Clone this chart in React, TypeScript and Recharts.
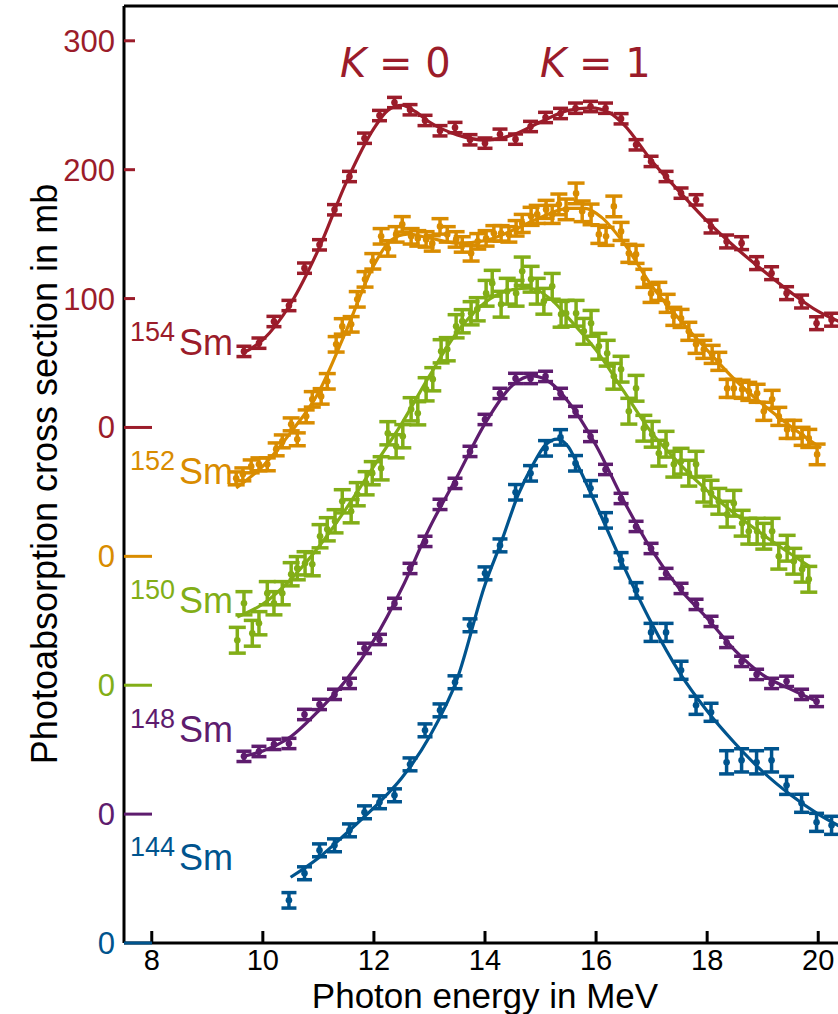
import React from "react";
import { ComposedChart, Scatter, Line, XAxis, YAxis, ErrorBar } from "recharts";

// measured data, cross sections in mb; each isotope is shifted by 100 mb in the plot
const E_GRID = [
  9.66, 9.93, 10.2, 10.47, 10.75, 11.02, 11.29, 11.56, 11.83, 12.1, 12.37, 12.65, 12.92, 13.19,
  13.46, 13.73, 14.0, 14.27, 14.55, 14.82, 15.09, 15.36, 15.63, 15.9, 16.17, 16.45, 16.72, 16.99,
  17.26, 17.53, 17.8, 18.07, 18.35, 18.62, 18.89, 19.16, 19.43, 19.7, 19.97, 20.24,
];

const SM154 = [
  59, 65.4, 82.2, 94.6, 123.6, 141.7, 168.9, 194.7, 224.4, 242, 252.1, 246.5, 238.2, 230.2,
  232.7, 223.2, 220.6, 227.5, 223.7, 233.5, 240.5, 243.6, 247.7, 249, 247.7, 239.5, 219.3, 206.4,
  194.7, 181.8, 176.6, 155.9, 144.3, 143, 127.5, 119.7, 104.2, 97.7, 80.9, 83.6,
];
const SM154_ERR = [
  4, 4, 4, 4, 4, 4, 4, 4, 4, 4, 4, 4, 4, 4, 4, 4, 4, 4, 4, 4, 4, 4, 4, 4, 4, 4, 4, 4, 4, 4, 4, 5,
  5, 5, 5, 5, 5, 5, 5, 5,
];

const E_152 = [
  9.52, 9.64, 9.79, 9.93, 10.08, 10.24, 10.35, 10.51, 10.62, 10.78, 10.89, 11.05, 11.16, 11.32,
  11.43, 11.59, 11.7, 11.84, 11.98, 12.13, 12.25, 12.4, 12.51, 12.67, 12.79, 12.94, 13.05, 13.19,
  13.32, 13.48, 13.59, 13.75, 13.87, 14.02, 14.16, 14.29, 14.43, 14.56, 14.67, 14.83, 14.94, 15.1,
  15.21, 15.33, 15.46, 15.64, 15.75, 15.91, 16.05, 16.18, 16.32, 16.45, 16.59, 16.72, 16.86,
  16.99, 17.13, 17.28, 17.4, 17.53, 17.67, 17.8, 17.94, 18.09, 18.21, 18.36, 18.48, 18.63, 18.75,
  18.9, 19.02, 19.17, 19.29, 19.44, 19.56, 19.71, 19.83, 19.98,
];
const SM152 = [
  60.5, 63.6, 69.8, 71.4, 71.4, 83, 89.2, 102.4, 90.8, 108.6, 121.8, 124.1, 135.8, 164.5, 178.4,
  180, 199.4, 214.9, 228.9, 248.3, 238.9, 249.8, 257.6, 248.3, 246.7, 245.9, 242.8, 256, 249.8,
  245.9, 242, 235.1, 244.4, 246.7, 250.6, 250.6, 249.8, 254.5, 258.3, 263.8, 265.3, 269.2, 265.3,
  273.1, 269.2, 281.6, 267.7, 265.3, 249.8, 248.3, 271.5, 252.1, 235.1, 234.3, 215.7, 204, 205.6,
  196.3, 186.2, 184.6, 174.6, 164.5, 160.6, 156.7, 151.3, 130.3, 130.3, 129.6, 128, 126.5, 112.5,
  121.8, 108.6, 98.5, 98.5, 93.1, 91.5, 79.1,
];
const SM152_ERR = [
  5, 5, 5, 5, 5, 5, 5, 5, 5, 5, 6, 6, 6, 6, 6, 6, 6, 6, 6, 6, 6, 6, 6, 6, 6, 6, 6, 6, 6, 6, 6, 6,
  6, 6, 6, 6, 6, 6, 7, 7, 7, 7, 7, 8, 8, 8, 8, 8, 7, 7, 8, 7, 7, 7, 7, 7, 7, 7, 7, 7, 7, 7, 7, 7,
  7, 7, 7, 7, 7, 7, 7, 7, 7, 7, 7, 7, 7, 8,
];

const E_150 = [
  9.54, 9.66, 9.81, 9.93, 10.08, 10.2, 10.35, 10.51, 10.62, 10.76, 10.89, 11.03, 11.16, 11.3,
  11.43, 11.59, 11.7, 11.86, 11.97, 12.13, 12.25, 12.4, 12.52, 12.67, 12.79, 12.94, 13.06, 13.21,
  13.32, 13.48, 13.59, 13.75, 13.86, 14.02, 14.13, 14.29, 14.4, 14.56, 14.67, 14.83, 14.94, 15.06,
  15.21, 15.37, 15.46, 15.64, 15.78, 15.91, 16.05, 16.2, 16.32, 16.45, 16.59, 16.72, 16.86, 17.01,
  17.13, 17.26, 17.4, 17.53, 17.67, 17.8, 17.94, 18.07, 18.21, 18.36, 18.48, 18.63, 18.75, 18.9,
  19.02, 19.17, 19.29, 19.44, 19.56, 19.71, 19.83,
];
const SM150 = [
  34.9, 63.6, 40.3, 48.1, 71.4, 63.6, 71.4, 86.1, 90.8, 94.6, 93.9, 115.6, 121, 127.2, 142.7, 135,
  148.2, 156.7, 164.5, 168.3, 195.5, 185.4, 193.2, 214.1, 211, 229.6, 237.4, 259.1, 260.7, 278.5,
  282.4, 288.6, 291.7, 304.1, 311.9, 295.6, 305.7, 304.1, 321.2, 315, 305.7, 297.9, 309.5, 287.8,
  288.6, 288.6, 274.6, 280.8, 263, 257.6, 239.7, 245.2, 212.6, 230.4, 199.4, 194.7, 180, 187,
  171.5, 173.8, 164.5, 171.5, 152.1, 149, 142.7, 132.7, 141.2, 125.7, 119.5, 119.5, 115.6, 119.5,
  100.1, 106.3, 96.2, 90, 82.2,
];
const SM150_ERR = [
  10, 9, 10, 9, 9, 9, 9, 9, 9, 9, 9, 9, 9, 9, 9, 9, 9, 9, 9, 9, 9, 9, 9, 9, 9, 9, 9, 9, 9, 9, 9,
  9, 9, 10, 10, 10, 10, 10, 11, 10, 10, 10, 10, 10, 10, 10, 10, 10, 10, 10, 10, 10, 10, 10, 10, 10,
  10, 10, 10, 10, 10, 10, 10, 10, 10, 10, 10, 10, 10, 10, 10, 10, 10, 10, 10, 10, 10,
];

const SM148 = [
  44.8, 48.6, 54.1, 54.8, 77.3, 85.1, 92.9, 101.4, 128.6, 135.5, 163.5, 190.6, 211.6, 240.3,
  256.6, 281.4, 306.2, 326.4, 338, 338, 339.6, 326.4, 312.4, 293, 267.4, 244.9, 223.2, 206.1,
  186.7, 175.1, 162.7, 149.5, 133.2, 118.5, 108.4, 101.4, 103, 92.9, 87.4,
];
const SM148_ERR = [
  4, 4, 4, 4, 4, 4, 4, 4, 4, 4, 4, 4, 4, 4, 4, 4, 4, 4, 4, 4, 4, 4, 4, 4, 4, 4, 4, 4, 4, 4, 4, 4,
  4, 4, 4, 4, 4, 4, 4,
];

const E_144 = [
  10.47, 10.75, 11.02, 11.29, 11.56, 11.83, 12.1, 12.37, 12.65, 12.92, 13.19, 13.46, 13.73, 14.0,
  14.27, 14.55, 14.82, 15.09, 15.36, 15.63, 15.9, 16.17, 16.45, 16.72, 16.99, 17.26, 17.53, 17.8,
  18.07, 18.35, 18.62, 18.89, 19.16, 19.43, 19.7, 19.97, 20.24,
];
const SM144 = [
  33.1, 54.1, 71.9, 75.8, 87.4, 101.4, 109.2, 114.6, 138.6, 165, 180.5, 202.3, 246.5, 286.8,
  308.5, 349.7, 364.4, 383.8, 392.3, 372.2, 352.8, 327.9, 296.9, 273.6, 241, 241, 211.6, 184.4,
  179, 140.2, 141.7, 140.2, 141.7, 122.3, 108.4, 93.6, 91.3,
];
const SM144_ERR = [
  6, 5, 5, 5, 5, 5, 5, 5, 5, 5, 5, 5, 5, 5, 5, 6, 6, 6, 6, 6, 6, 6, 6, 6, 7, 7, 7, 7, 7, 9, 9, 9,
  9, 7, 7, 7, 7,
];

// fitted curves
const FIT154_E = [9.66, 10, 10.5, 11, 11.5, 12, 12.25, 12.5, 12.75, 13, 13.5, 14, 14.5, 15, 15.5, 15.9, 16.25, 16.5, 17, 17.5, 18, 18.5, 19, 19.5, 20, 20.5];
const FIT154_V = [58, 68, 96, 138, 190, 232, 246, 250, 245, 237, 227, 223, 227, 237, 246, 248, 244, 235, 207, 183, 160, 140, 122, 105, 90, 80];
const FIT152_E = [9.52, 10, 10.5, 11, 11.5, 12, 12.3, 12.6, 13, 13.5, 14, 14.5, 15, 15.5, 15.8, 16.1, 16.5, 17, 17.5, 18, 18.5, 19, 19.5, 20.05];
const FIT152_V = [53, 70, 96, 127, 175, 226, 245, 250, 247, 243, 245, 253, 263, 270, 270, 263, 243, 210, 184, 160, 137, 118, 101, 84];
const FIT150_E = [9.54, 10, 10.5, 11, 11.5, 12, 12.5, 13, 13.5, 14, 14.5, 14.8, 15.2, 15.5, 16, 16.5, 17, 17.5, 18, 18.5, 19, 19.5, 19.85];
const FIT150_V = [53, 63, 82, 107, 137, 170, 203, 240, 274, 297, 307, 308, 299, 285, 260, 228, 196, 172, 151, 133, 117, 102, 92];
const FIT148_E = [9.66, 10, 10.5, 11, 11.5, 12, 12.5, 13, 13.5, 14, 14.5, 14.85, 15.2, 15.5, 16, 16.5, 17, 17.5, 18, 18.5, 19, 19.5, 20];
const FIT148_V = [45, 49, 60, 80, 104, 135, 175, 222, 262, 303, 333, 340, 334, 320, 286, 243, 205, 175, 152, 127, 108, 97, 87];
const FIT144_E = [10.5, 11, 11.5, 12, 12.5, 13, 13.5, 14, 14.3, 14.6, 14.85, 15.1, 15.3, 15.5, 15.7, 16, 16.5, 17, 17.5, 18, 18.5, 19, 19.5, 20, 20.5];
const FIT144_V = [51, 66, 85, 105, 128, 160, 205, 278, 312, 348, 370, 387, 391, 385, 368, 340, 292, 248, 210, 180, 155, 133, 115, 100, 88];

const X_TICKS = [8, 10, 12, 14, 16, 18, 20];
const Y_TICKS = [0, 100, 200, 300, 400, 500, 600, 700];
const Y_TICK_LABELS = ["0", "0", "0", "0", "0", "100", "200", "300"];

const RED = "#9b1c2a";
const ORANGE = "#d98c00";
const GREEN = "#82ae17";
const PURPLE = "#5e1c6e";
const BLUE = "#00548e";
const Y_TICK_COLORS = [BLUE, PURPLE, GREEN, ORANGE, RED, RED, RED, RED];
const FONT = "'Liberation Sans', Arial, sans-serif";

const points = (e: number[], v: number[], err: number[], offset: number) =>
  e.map((x, i) => ({ x, y: v[i] + offset, err: err[i] }));
const curve = (e: number[], v: number[], offset: number) =>
  e.map((x, i) => ({ x, y: v[i] + offset }));

const SERIES = [
  { name: "154Sm", color: RED, pts: points(E_GRID, SM154, SM154_ERR, 400), fit: curve(FIT154_E, FIT154_V, 400), cap: 7.5 },
  { name: "152Sm", color: ORANGE, pts: points(E_152, SM152, SM152_ERR, 300), fit: curve(FIT152_E, FIT152_V, 300), cap: 8.5 },
  { name: "150Sm", color: GREEN, pts: points(E_150, SM150, SM150_ERR, 200), fit: curve(FIT150_E, FIT150_V, 200), cap: 8.5 },
  { name: "148Sm", color: PURPLE, pts: points(E_GRID.slice(0, 39), SM148, SM148_ERR, 100), fit: curve(FIT148_E, FIT148_V, 100), cap: 7.5 },
  { name: "144Sm", color: BLUE, pts: points(E_144, SM144, SM144_ERR, 0), fit: curve(FIT144_E, FIT144_V, 0), cap: 7.5 },
];

const LeftTick = (props: any) => {
  const { x, y, index } = props;
  const c = Y_TICK_COLORS[index];
  const len = index < 5 ? 28 : 11;
  return (
    <g>
      <line x1={x + 9} x2={x + 9 + len} y1={y} y2={y} stroke={c} strokeWidth={3} />
      <text x={x} y={y + 11} textAnchor="end" fill={c} fontSize={31} fontFamily={FONT}>
        {Y_TICK_LABELS[index]}
      </text>
    </g>
  );
};

const RightTick = (props: any) => {
  const { x, y, index } = props;
  return <line x1={x - 11} x2={x} y1={y} y2={y} stroke={Y_TICK_COLORS[index]} strokeWidth={3} />;
};

const BottomTick = (props: any) => {
  const { x, y, payload } = props;
  return (
    <g>
      <line x1={x} x2={x} y1={y} y2={y - 12} stroke="#000" strokeWidth={3} />
      <text x={x} y={y + 27} textAnchor="middle" fill="#000" fontSize={29} fontFamily={FONT}>
        {payload.value}
      </text>
    </g>
  );
};

const TopTick = (props: any) => {
  const { x, y } = props;
  return <line x1={x} x2={x} y1={y} y2={y + 12} stroke="#000" strokeWidth={3} />;
};

const ISO_LABELS = [
  { mass: "154", color: RED, y: 355 },
  { mass: "152", color: ORANGE, y: 484 },
  { mass: "150", color: GREEN, y: 613 },
  { mass: "148", color: PURPLE, y: 742 },
  { mass: "144", color: BLUE, y: 870 },
];

export default function App() {
  return (
    <div
      style={{
        position: "fixed",
        left: 0,
        top: 0,
        width: 838,
        height: 1014,
        overflow: "hidden",
        background: "#fff",
      }}
    >
      <ComposedChart width={860} height={1014} margin={{ top: 5, right: 0, bottom: 0, left: 0 }}>
        <XAxis
          dataKey="x"
          type="number"
          domain={[7.5, 20.5]}
          ticks={X_TICKS}
          interval={0}
          height={71}
          tickSize={0}
          tickMargin={0}
          tick={<BottomTick />}
          axisLine={{ stroke: "#000", strokeWidth: 3 }}
          tickLine={false}
        />
        <XAxis
          xAxisId="top"
          orientation="top"
          dataKey="x"
          type="number"
          domain={[7.5, 20.5]}
          ticks={X_TICKS}
          interval={0}
          height={1}
          tickSize={0}
          tickMargin={0}
          tick={<TopTick />}
          axisLine={{ stroke: "#000", strokeWidth: 3 }}
          tickLine={false}
        />
        <YAxis
          dataKey="y"
          type="number"
          domain={[0, 727]}
          ticks={Y_TICKS}
          interval={0}
          width={124}
          tickSize={0}
          tickMargin={9}
          tick={<LeftTick />}
          axisLine={{ stroke: "#000", strokeWidth: 3 }}
          tickLine={false}
        />
        <YAxis
          yAxisId="right"
          orientation="right"
          dataKey="y"
          type="number"
          domain={[0, 727]}
          ticks={Y_TICKS}
          interval={0}
          width={14}
          tickSize={0}
          tickMargin={0}
          tick={<RightTick />}
          axisLine={{ stroke: "#000", strokeWidth: 3 }}
          tickLine={false}
        />
        {SERIES.map((s) => (
          <Scatter
            key={s.name}
            name={s.name}
            data={s.pts}
            dataKey="y"
            fill={s.color}
            isAnimationActive={false}
            shape={(p: any) => <circle cx={p.cx} cy={p.cy} r={3.3} fill={s.color} />}
          >
            <ErrorBar dataKey="err" direction="y" width={s.cap} stroke={s.color} strokeWidth={3.5} isAnimationActive={false} />
          </Scatter>
        ))}
        {SERIES.map((s) => (
          <Line
            key={s.name + "-fit"}
            data={s.fit}
            dataKey="y"
            type="monotone"
            stroke={s.color}
            strokeWidth={3.2}
            dot={false}
            activeDot={false}
            isAnimationActive={false}
          />
        ))}
      </ComposedChart>
      <svg
        width={860}
        height={1014}
        style={{ position: "absolute", left: 0, top: 0, pointerEvents: "none" }}
      >
        <text
          transform="translate(57, 474) rotate(-90)"
          textAnchor="middle"
          fontSize={36}
          fontFamily={FONT}
          fill="#000"
        >
          Photoabsorption cross section in mb
        </text>
        <text x={485} y={1008} textAnchor="middle" fontSize={35} fontFamily={FONT} fill="#000">
          Photon energy in MeV
        </text>
        <text x={340} y={77} fontSize={40} fontFamily="'DejaVu Sans', sans-serif" fill={RED}>
          <tspan fontStyle="italic">K</tspan> = 0
        </text>
        <text x={540} y={77} fontSize={40} fontFamily="'DejaVu Sans', sans-serif" fill={RED}>
          <tspan fontStyle="italic">K</tspan> = 1
        </text>
        {ISO_LABELS.map((l) => (
          <text key={l.mass} fontFamily={FONT} fill={l.color}>
            <tspan x={130} y={l.y - 14} fontSize={27}>
              {l.mass}
            </tspan>
            <tspan x={179} y={l.y} fontSize={36}>
              Sm
            </tspan>
          </text>
        ))}
      </svg>
    </div>
  );
}
